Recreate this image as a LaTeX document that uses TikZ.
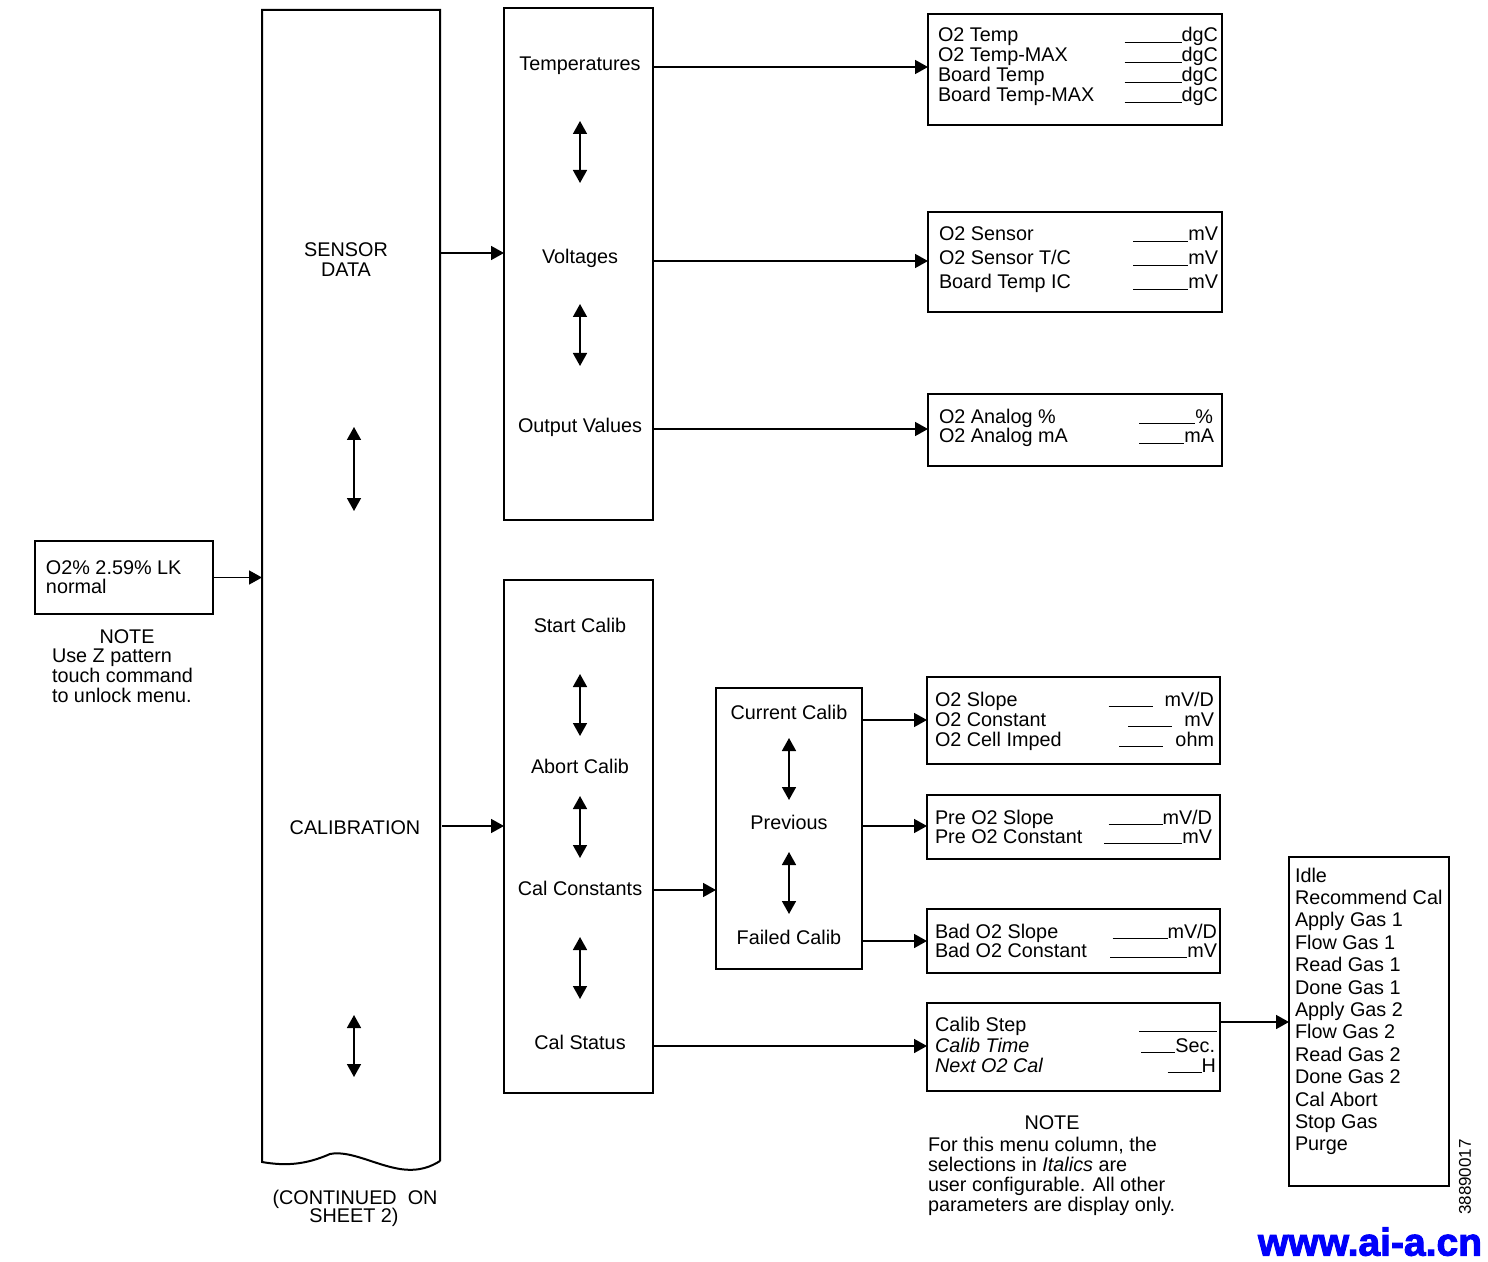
\documentclass[tikz,border=0pt]{standalone}
\usepackage{fontspec}
\setmainfont{Liberation Sans}
\newfontfamily\wmfont[FakeBold=2.5]{Liberation Sans Bold}
\usetikzlibrary{arrows.meta}
\newcommand\fsz{\fontsize{9.9}{11}\selectfont}
\newcommand\bl[1]{\rule[-0.6pt]{#1}{0.6pt}}
\definecolor{wmblue}{RGB}{0,0,250}
\begin{document}
\begin{tikzpicture}[x=0.5pt,y=-0.5pt,
  box/.style={draw, line width=1pt, inner sep=0pt, outer sep=0pt},
  arr/.style={line width=0.8pt, -{Triangle[length=6.5pt,width=7pt]}},
  darr/.style={line width=0.8pt, {Triangle[length=6.5pt,width=7pt]}-{Triangle[length=6.5pt,width=7pt]}},
  txt/.style={inner sep=0pt, outer sep=0pt, font=\fsz},
  lt/.style={txt, anchor=base west},
  rt/.style={txt, anchor=base east},
  ct/.style={txt, anchor=base}]
\useasboundingbox (0,0) rectangle (1488,1262);

% ---------- main boxes ----------
\node[inner sep=0pt, outer sep=0pt, minimum width=89pt, minimum height=575.5pt] (sd) at (351,585.5) {};
\draw[line width=1pt] (sd.south east) -- (sd.north east) -- (sd.north west) -- (262,1162)
  .. controls (285,1166) and (305,1165) .. (330,1154)
  .. controls (350,1150) and (375,1165) .. (400,1169)
  .. controls (420,1172) and (432,1166) .. (sd.south east);

\node[box, minimum width=74.5pt, minimum height=256pt] (col1) at (578.5,264) {};
\node[box, minimum width=74.5pt, minimum height=256.5pt] (col2) at (578.5,836.5) {};
\node[box, minimum width=73pt, minimum height=140.5pt] (sub) at (789,828.5) {};
\node[box, minimum width=89pt, minimum height=36.5pt] (status) at (124,577.5) {};
\node[box, minimum width=147pt, minimum height=55.5pt] (b1) at (1075,69.5) {};
\node[box, minimum width=147pt, minimum height=50pt] (b2) at (1075,262) {};
\node[box, minimum width=147pt, minimum height=36pt] (b3) at (1075,430) {};
\node[box, minimum width=146.5pt, minimum height=43.5pt] (b4) at (1073.5,720.5) {};
\node[box, minimum width=146.5pt, minimum height=32pt] (b5) at (1073.5,827) {};
\node[box, minimum width=146.5pt, minimum height=32pt] (b6) at (1073.5,941) {};
\node[box, minimum width=146.5pt, minimum height=44pt] (b7) at (1073.5,1047) {};
\node[box, minimum width=80pt, minimum height=164.5pt] (lst) at (1369,1021.5) {};

% ---------- column texts ----------
\node[ct] (tsen) at (346,257) {SENSOR};
\node[ct] (tdat) at (346,277) {DATA};
\node[ct] (tcal) at (355,834) {CALIBRATION};
\node[ct] (ttemp) at (580,71) {Temperatures};
\node[ct] (tvolt) at (580,264) {Voltages};
\node[ct] (tout) at (580,433) {Output Values};
\node[ct] (tstart) at (580,632) {Start Calib};
\node[ct] (tabort) at (580,773) {Abort Calib};
\node[ct] (tconst) at (580,895) {Cal Constants};
\node[ct] (tstat) at (580,1049) {Cal Status};
\node[ct] (tcur) at (789,719) {Current Calib};
\node[ct] (tprev) at (789,829) {Previous};
\node[ct] (tfail) at (789,944) {Failed Calib};

% ---------- status box and note ----------
\node[lt] (s1) at (46,574) {O2\% 2.59\% LK};
\node[lt] (s2) at (46,593) {normal};
\node[ct] (n0) at (127,643) {NOTE};
\node[lt] (n1) at (52,662) {Use Z pattern};
\node[lt] (n2) at (52,682) {touch command};
\node[lt] (n3) at (52,702) {to unlock menu.};

% ---------- box 1 ----------
\node[lt] (b1a) at (938,42) {O2 Temp};
\node[lt] (b1b) at (938,62) {O2 Temp-MAX};
\node[lt] (b1c) at (938,82) {Board Temp};
\node[lt] (b1d) at (938,102) {Board Temp-MAX};
\node[rt] (b1e) at (1218,42) {\bl{28.5pt}dgC};
\node[rt] (b1f) at (1218,62) {\bl{28.5pt}dgC};
\node[rt] (b1g) at (1218,82) {\bl{28.5pt}dgC};
\node[rt] (b1h) at (1218,102) {\bl{28.5pt}dgC};
% ---------- box 2 ----------
\node[lt] (b2a) at (939,241) {O2 Sensor};
\node[lt] (b2b) at (939,265) {O2 Sensor T/C};
\node[lt] (b2c) at (939,289) {Board Temp IC};
\node[rt] (b2d) at (1218,241) {\bl{27.5pt}mV};
\node[rt] (b2e) at (1218,265) {\bl{27.5pt}mV};
\node[rt] (b2f) at (1218,289) {\bl{27.5pt}mV};
% ---------- box 3 ----------
\node[lt] (b3a) at (939,423) {O2 Analog \%};
\node[lt] (b3b) at (939,443) {O2 Analog mA};
\node[rt] (b3c) at (1213,423) {\bl{28pt}\%};
\node[rt] (b3d) at (1214,443) {\bl{22.5pt}mA};
% ---------- box 4 ----------
\node[lt] (b4a) at (935,706) {O2 Slope};
\node[lt] (b4b) at (935,726) {O2 Constant};
\node[lt] (b4c) at (935,746) {O2 Cell Imped};
\node[rt] (b4d) at (1214,706) {\bl{22pt}\hspace{6pt}mV/D};
\node[rt] (b4e) at (1214,726) {\bl{22pt}\hspace{6pt}mV};
\node[rt] (b4f) at (1214,746) {\bl{22pt}\hspace{6pt}ohm};
% ---------- box 5 ----------
\node[lt] (b5a) at (935,824) {Pre O2 Slope};
\node[lt] (b5b) at (935,843) {Pre O2 Constant};
\node[rt] (b5c) at (1212,824) {\bl{27pt}mV/D};
\node[rt] (b5d) at (1212,843) {\bl{39pt}mV};
% ---------- box 6 ----------
\node[lt] (b6a) at (935,938) {Bad O2 Slope};
\node[lt] (b6b) at (935,957) {Bad O2 Constant};
\node[rt] (b6c) at (1217,938) {\bl{27.5pt}mV/D};
\node[rt] (b6d) at (1217,957) {\bl{38.5pt}mV};
% ---------- box 7 ----------
\node[lt] (b7a) at (935,1031) {Calib Step};
\node[lt] (b7b) at (935,1052) {\itshape Calib Time};
\node[lt] (b7c) at (935,1072) {\itshape Next O2 Cal};
\node[rt] (b7d) at (1217,1031) {\bl{39pt}};
\node[rt] (b7e) at (1215,1052) {\bl{17pt}Sec.};
\node[rt] (b7f) at (1216,1072) {\bl{17pt}H};

% ---------- status list ----------
\foreach \t [count=\i] in {Idle, Recommend Cal, Apply Gas 1, Flow Gas 1, Read Gas 1, Done Gas 1,
  Apply Gas 2, Flow Gas 2, Read Gas 2, Done Gas 2, Cal Abort, Stop Gas, Purge}
  \node[lt, name=li\i] at (1295,{882+(\i-1)*22.4}) {\t};

% ---------- notes ----------
\node[ct] (m0) at (1052,1129) {NOTE};
\node[lt] (m1) at (928,1151) {For this menu column, the};
\node[lt] (m2) at (928,1171) {selections in \textit{Italics} are};
\node[lt] (m3) at (928,1191) {user configurable. All other};
\node[lt] (m4) at (928,1211) {parameters are display only.};
\node[ct] (c1) at (355,1204) {(CONTINUED\ \ ON};
\node[ct] (c2) at (354,1222) {SHEET 2)};
\node[txt, font=\fontsize{8.5}{9}\selectfont, rotate=90] (docnum) at (1465,1177) {38890017};
\node[inner sep=0pt, outer sep=0pt, anchor=south west, text=wmblue] (wm) at (1258,1256)
  {\resizebox{112pt}{!}{\wmfont www.ai-a.cn}};

% ---------- row coordinates ----------
\coordinate (ySD) at (0,253);
\coordinate (yCal) at (0,826);
\coordinate (yT) at (0,67);
\coordinate (yV) at (0,261);
\coordinate (yO) at (0,429);
\coordinate (yCC) at (0,890);
\coordinate (yCur) at (0,720);
\coordinate (yPrev) at (0,826);
\coordinate (yFail) at (0,941);
\coordinate (yCS) at (0,1046);
\coordinate (yL) at (0,1022);

% ---------- connectors ----------
\draw[arr] (status.east) -- (sd.west |- status.east);
\draw[arr] (sd.east |- ySD) -- (col1.west |- ySD);
\draw[arr] ([xshift=1pt]sd.east |- yCal) -- (col2.west |- yCal);
\draw[arr] (col1.east |- yT) -- (b1.west |- yT);
\draw[arr] (col1.east |- yV) -- (b2.west |- yV);
\draw[arr] (col1.east |- yO) -- (b3.west |- yO);
\draw[arr] (col2.east |- yCC) -- (sub.west |- yCC);
\draw[arr] (sub.east |- yCur) -- (b4.west |- yCur);
\draw[arr] (sub.east |- yPrev) -- (b5.west |- yPrev);
\draw[arr] (sub.east |- yFail) -- (b6.west |- yFail);
\draw[arr] (col2.east |- yCS) -- (b7.west |- yCS);
\draw[arr] (b7.east |- yL) -- (lst.west |- yL);

% ---------- double arrows ----------
\draw[darr] (354,427) -- (354,511);
\draw[darr] (354,1015) -- (354,1077);
\draw[darr] (580,121) -- (580,183);
\draw[darr] (580,304) -- (580,366);
\draw[darr] (580,674) -- (580,736);
\draw[darr] (580,796) -- (580,858);
\draw[darr] (580,937) -- (580,999);
\draw[darr] (789,738) -- (789,800);
\draw[darr] (789,852) -- (789,914);
\end{tikzpicture}
\end{document}
